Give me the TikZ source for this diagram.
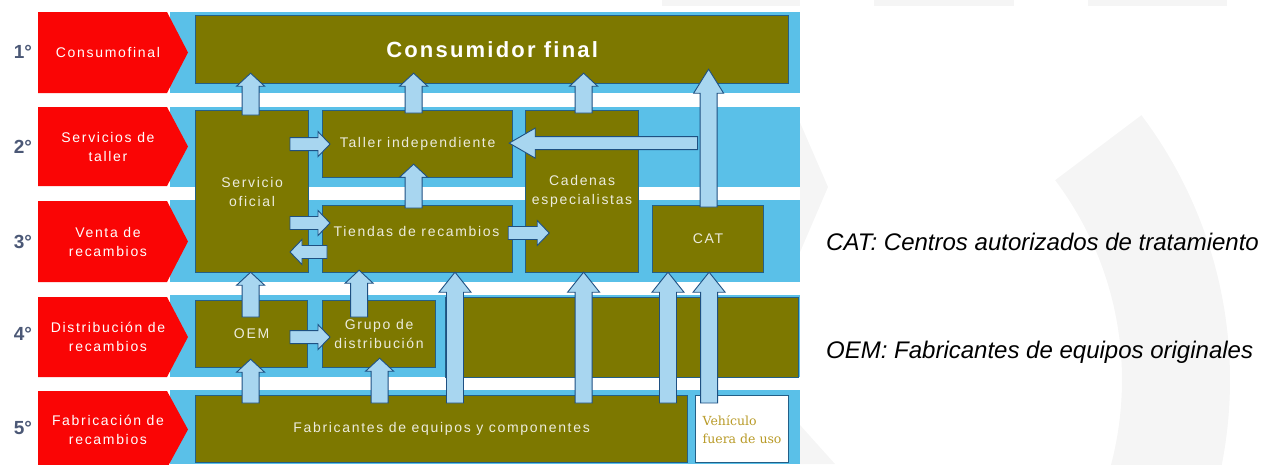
\documentclass[tikz,border=0pt]{standalone}
\usepackage{fontspec}
\setmainfont{Liberation Sans}
\newfontfamily\lblfont[LetterSpace=12]{Liberation Sans}
\newfontfamily\ttlfont[LetterSpace=10]{Liberation Sans}
\newfontfamily\vehfont{DejaVu Serif}
\usetikzlibrary{calc}
\definecolor{redc}{RGB}{250,5,5}
\definecolor{olivec}{RGB}{125,120,0}
\definecolor{bluebg}{RGB}{90,192,232}
\definecolor{bordc}{RGB}{35,95,135}
\definecolor{alight}{RGB}{168,214,240}
\definecolor{adark}{RGB}{30,80,130}
\definecolor{boxtxt}{RGB}{236,236,222}
\definecolor{numc}{RGB}{75,88,118}
\definecolor{wmark}{RGB}{245,245,245}
\definecolor{vehc}{RGB}{185,155,40}
\tikzset{
 obox/.style={draw=bordc, fill=olivec, line width=1.2pt, inner sep=0pt, anchor=north west,
   text=boxtxt, align=center, font=\lblfont\fontsize{14}{19}\selectfont},
 redlbl/.style={text=white, align=center, font=\lblfont\fontsize{14}{19}\selectfont, inner sep=0pt},
 numlbl/.style={text=numc, font=\fontsize{19}{19}\selectfont\bfseries, inner sep=0pt},
 inlbl/.style={text=boxtxt, align=center, font=\lblfont\fontsize{14}{19}\selectfont, inner sep=0pt},
 legend/.style={anchor=base west, font=\fontsize{24}{28}\selectfont\itshape, inner sep=0pt},
 barrow/.style n args={3}{draw=adark, fill=alight, line width=0.9pt, line join=miter,
  to path={
   ($(\tikztostart)!#1!90:(\tikztotarget)$)
   -- ($(\tikztotarget)!#3!(\tikztostart)!#1!-90:(\tikztostart)$)
   -- ($(\tikztotarget)!#3!(\tikztostart)!#2!-90:(\tikztostart)$)
   -- (\tikztotarget)
   -- ($(\tikztotarget)!#3!(\tikztostart)!#2!90:(\tikztostart)$)
   -- ($(\tikztotarget)!#3!(\tikztostart)!#1!90:(\tikztostart)$)
   -- ($(\tikztostart)!#1!-90:(\tikztotarget)$)
   -- cycle}},
 sv/.style={barrow={8.5pt}{14pt}{13pt}},
 lv/.style={barrow={8.5pt}{16pt}{20pt}},
 sh/.style={barrow={6.5pt}{12.5pt}{12pt}},
 bh/.style={barrow={6.5pt}{15pt}{26pt}}
}
\newcommand\redrow[4]{%
 \fill[redc] (38,#1) -- (167,#1) -- (188,{(#1+#2)/2}) -- (167,#2) -- (38,#2) -- cycle;
 \node[redlbl] (#4) at (108,{(#1+#2)/2}) {#3};}
\begin{document}
\begin{tikzpicture}[x=1pt,y=-1pt]
\useasboundingbox (0,0) rectangle (1267,464);
% faint watermark
\fill[wmark] (662,0) rectangle (800,6);
\fill[wmark] (874,0) rectangle (1014,6);
\fill[wmark] (1088,0) rectangle (1227,6);
\fill[wmark] ($(790,380)+(37:440pt)$) arc[start angle=37, end angle=-40, radius=440pt]
  -- ($(790,380)+(-40:332pt)$) arc[start angle=-40, end angle=37, radius=332pt] -- cycle;
\fill[wmark] (788,95) -- (828,187) -- (788,280) -- cycle;
\fill[wmark] (800,425) -- (835,464) -- (800,464) -- cycle;
% background
\fill[bluebg] (170,12) rectangle (800,464);
\foreach \t/\b in {93/106.5, 187/200, 282/295, 377/390}{
  \fill[white] (38,\t) rectangle (800,\b);}
% row labels
\redrow{12}{93}{Consumofinal}{r1}
\redrow{107}{186}{Servicios de\\taller}{r2}
\redrow{201}{282}{Venta de\\recambios}{r3}
\redrow{297}{377}{Distribución de\\recambios}{r4}
\redrow{391}{468}{Fabricación de\\recambios}{r5}
\node[numlbl] (n1) at (23,52) {1°};
\node[numlbl] (n2) at (23,147) {2°};
\node[numlbl] (n3) at (23,242) {3°};
\node[numlbl] (n4) at (23,334) {4°};
\node[numlbl] (n5) at (23,428) {5°};
% boxes
\node[obox, minimum width=593pt, minimum height=68pt, text=white,
  font=\ttlfont\fontsize{22}{22}\selectfont\bfseries] (cons) at (195,15) {Consumidor final};
\node[obox, minimum width=113pt, minimum height=162pt] (serv) at (195,110) {Servicio\\oficial};
\node[obox, minimum width=190pt, minimum height=67pt] (taller) at (322,110) {Taller independiente};
\node[obox, minimum width=190pt, minimum height=67pt] (tiendas) at (322,205) {};
\node[inlbl] (tiendaslbl) at ($(tiendas.center)+(-1,-8)$) {Tiendas de recambios};
\node[obox, minimum width=113pt, minimum height=162pt] (cad) at (525,110) {Cadenas\\especialistas};
\node[obox, minimum width=111pt, minimum height=67pt] (cat) at (652,205) {CAT};
\node[obox, minimum width=112pt, minimum height=67pt] (oem) at (195,300) {OEM};
\node[obox, minimum width=113pt, minimum height=67pt] (grupo) at (322,300) {Grupo de\\distribución};
\node[obox, minimum width=353pt, minimum height=80pt] (dist4) at (445,297) {};
\node[obox, minimum width=492pt, minimum height=67pt] (fab) at (195,395) {Fabricantes de equipos y componentes};
\node[obox, fill=white, text=vehc, align=left, minimum width=93pt, minimum height=67pt,
  font=\vehfont\fontsize{12.5}{18}\selectfont] (veh) at (695,395) {Vehículo\\fuera de uso};
% arrow end points
\coordinate (a1s) at ($(serv.north)+(-1.5,5)$);
\coordinate (a1e) at ($(a1s |- cons.south)+(0,-11)$);
\coordinate (a2s) at ($(taller.north)+(-4,3)$);
\coordinate (a2e) at ($(a2s |- cons.south)+(0,-11)$);
\coordinate (a3s) at ($(cad.north)+(1.5,3)$);
\coordinate (a3e) at ($(a3s |- cons.south)+(0,-11)$);
\coordinate (a4s) at ($(cat.north)+(0.5,2)$);
\coordinate (a4e) at ($(a4s |- cons.south)+(0,-15)$);
\coordinate (a5s) at ($(tiendas.north)+(-4,3)$);
\coordinate (a5e) at ($(a5s |- taller.south)+(0,-14)$);
\coordinate (a6s) at ($(oem.north)+(-1,17)$);
\coordinate (a6e) at ($(a6s |- serv.south)+(0,-1)$);
\coordinate (a7s) at ($(grupo.north)+(-20,17)$);
\coordinate (a7e) at ($(a7s |- tiendas.south)+(0,-3)$);
\coordinate (a8s) at ($(oem.south |- fab.north)+(-1,8)$);
\coordinate (a8e) at ($(oem.south)+(-1,-9)$);
\coordinate (a9s) at ($(grupo.south |- fab.north)+(0.5,8)$);
\coordinate (a9e) at ($(grupo.south)+(0.5,-10)$);
\coordinate (a10s) at ($(fab.north west)+(260,8)$);
\coordinate (a10e) at ($(a10s |- tiendas.south)+(0,-1)$);
\coordinate (a11s) at ($(cad.south |- fab.north)+(1.5,8)$);
\coordinate (a11e) at ($(cad.south)+(1.5,-1)$);
\coordinate (a12s) at ($(cat.south west |- fab.north)+(16,8)$);
\coordinate (a12e) at ($(a12s |- cat.south)+(0,-1)$);
\coordinate (a13s) at ($(veh.north)+(-33,8)$);
\coordinate (a13e) at ($(a13s |- cat.south)+(0,-1)$);
\coordinate (h1s) at ($(a4s |- taller.east)+(-11,-1)$);
\coordinate (h1e) at ($(taller.east)+(-4,-1)$);
\coordinate (h2s) at ($(taller.west)+(-32,0)$);
\coordinate (h2e) at ($(taller.west)+(8,0)$);
\coordinate (h3s) at ($(tiendas.north west)+(-32,18)$);
\coordinate (h3e) at ($(tiendas.north west)+(8,18)$);
\coordinate (h4s) at ($(tiendas.north west)+(5,47)$);
\coordinate (h4e) at ($(tiendas.north west)+(-32,47)$);
\coordinate (h5s) at ($(tiendas.north east)+(-5,28)$);
\coordinate (h5e) at ($(tiendas.north east)+(36,28)$);
\coordinate (h6s) at ($(grupo.west)+(-32,3)$);
\coordinate (h6e) at ($(grupo.west)+(8,3)$);
% arrows
\draw[bh] (h1s) to (h1e);
\draw[sv] (a1s) to (a1e);
\draw[sv] (a2s) to (a2e);
\draw[sv] (a3s) to (a3e);
\draw[barrow={8.5pt}{15pt}{24pt}] (a4s) to (a4e);
\draw[sv] (a5s) to (a5e);
\draw[sv] (a6s) to (a6e);
\draw[sv] (a7s) to (a7e);
\draw[sv] (a8s) to (a8e);
\draw[sv] (a9s) to (a9e);
\draw[lv] (a10s) to (a10e);
\draw[lv] (a11s) to (a11e);
\draw[lv] (a12s) to (a12e);
\draw[lv] (a13s) to (a13e);
\draw[sh] (h2s) to (h2e);
\draw[sh] (h3s) to (h3e);
\draw[sh] (h4s) to (h4e);
\draw[sh] (h5s) to (h5e);
\draw[sh] (h6s) to (h6e);
% legends
\node[legend] (catleg) at (826,250) {CAT: Centros autorizados de tratamiento};
\node[legend] (oemleg) at (826,358) {OEM: Fabricantes de equipos originales};
\end{tikzpicture}
\end{document}
